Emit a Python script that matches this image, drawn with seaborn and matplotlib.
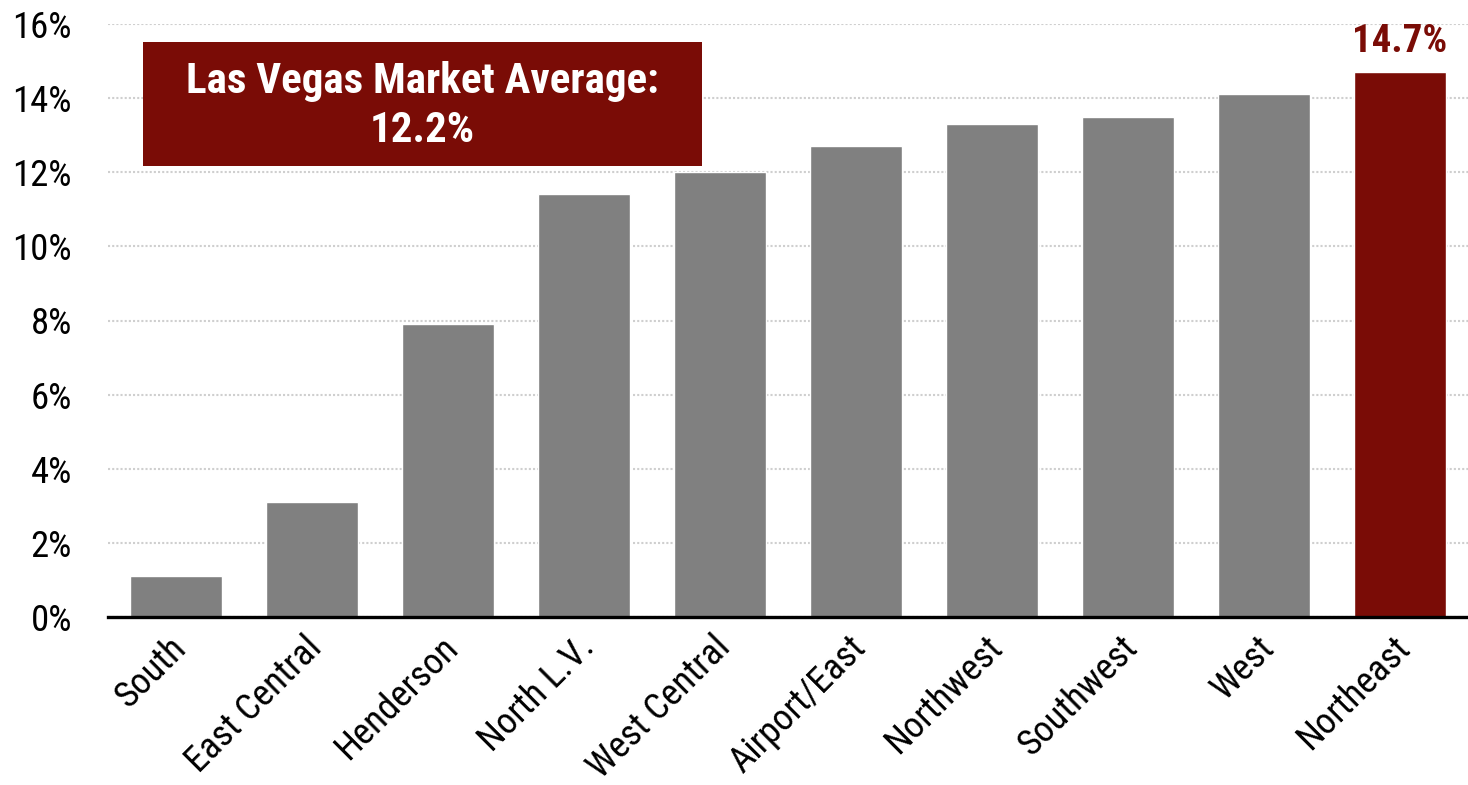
import matplotlib
matplotlib.use("Agg")
import matplotlib.pyplot as plt
import matplotlib.transforms as mtransforms
from matplotlib.patches import Rectangle
import seaborn as sns

categories = ["South", "East Central", "Henderson", "North L.V.", "West Central",
              "Airport/East", "Northwest", "Southwest", "West", "Northeast"]
values = [1.1, 3.1, 7.9, 11.4, 12.0, 12.7, 13.3, 13.5, 14.1, 14.7]
yticks = [0, 2, 4, 6, 8, 10, 12, 14, 16]
ytick_labels = [f"{t}%" for t in yticks]
highlight = "Northeast"
highlight_label = "14.7%"
market_text = "Las Vegas Market Average:\n12.2%"

RED = "#7a0c06"
GRAY = "#808080"

sns.set_theme(style="white")
plt.rcParams["font.family"] = ["Roboto Condensed", "DejaVu Sans"]

fig = plt.figure(figsize=(14.68, 7.85), dpi=100)
ax = fig.add_axes([108 / 1468, 1 - 617 / 785, 1 - 108 / 1468, (617 - 24) / 785])

palette = {c: (RED if c == highlight else GRAY) for c in categories}
sns.barplot(x=categories, y=values, hue=categories, palette=palette, legend=False,
            width=0.67, saturation=1, ax=ax, zorder=3)

ax.set_ylim(0, 16)
ax.set_xlim(-0.5, len(categories) - 0.5)
ax.set_yticks(yticks)
ax.set_yticklabels(ytick_labels, fontsize=26.5, color="black")
ax.yaxis.grid(True, linestyle=(0, (1, 1)), color="#cfcfcf", linewidth=1.5, zorder=0)
ax.set_axisbelow(True)
ax.tick_params(axis="y", length=0, pad=26)
ax.tick_params(axis="x", length=0, pad=9)
offset = mtransforms.ScaledTranslation(-8 / 100, 0, fig.dpi_scale_trans)
for lab in ax.get_xticklabels():
    lab.set_rotation(45)
    lab.set_ha("right")
    lab.set_va("top")
    lab.set_rotation_mode("anchor")
    lab.set_fontsize(26.5)
    lab.set_color("black")
    lab.set_transform(lab.get_transform() + offset)
for s in ["top", "right", "left"]:
    ax.spines[s].set_visible(False)
ax.spines["bottom"].set_color("black")
ax.spines["bottom"].set_linewidth(2.4)
ax.spines["bottom"].set_zorder(5)
ax.set_xlabel("")
ax.set_ylabel("")

idx = categories.index(highlight)
ax.annotate(highlight_label, xy=(idx, values[idx]), xytext=(0, 9),
            textcoords="offset points", ha="center", va="bottom",
            fontsize=28, fontweight="bold", color=RED)

x0 = (143 - 108) / 1360
w = (702 - 143) / 1360
y0 = (617 - 166) / 593
h = (166 - 42) / 593
ax.add_patch(Rectangle((x0, y0), w, h, transform=ax.transAxes, facecolor=RED,
                       edgecolor="none", zorder=6, clip_on=False))
ax.text(x0 + w / 2, y0 + h / 2 - 0.004, market_text, transform=ax.transAxes, ha="center",
        va="center", fontsize=31, fontweight="bold", color="white", zorder=7,
        linespacing=1.25)

fig.savefig("out.png", dpi=100)
